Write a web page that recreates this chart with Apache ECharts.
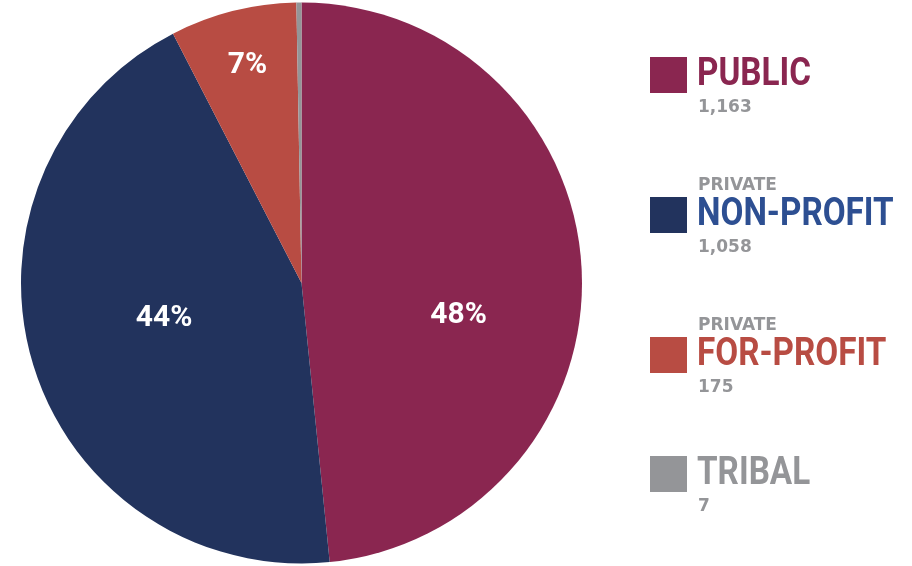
<!DOCTYPE html>
<html>
<head>
<meta charset="utf-8">
<script src="https://cdn.jsdelivr.net/npm/echarts@6/dist/echarts.min.js"></script>
<style>
html,body{margin:0;padding:0;background:#fff;}
#c{width:912px;height:566px;}
</style>
</head>
<body>
<div id="c"></div>
<script>
// ---- data ----
const categories = ['PUBLIC', 'NON-PROFIT', 'FOR-PROFIT', 'TRIBAL'];
const prefixes = ['', 'PRIVATE', 'PRIVATE', ''];
const counts = [1163, 1058, 175, 7];
const percentLabels = ['48%', '44%', '7%', ''];

// ---- styles / layout ----
const sliceColors = ['#8A2650', '#22335D', '#B84C43', '#949598'];
const nameColors = ['#8A2650', '#2D4F92', '#B84C43', '#949598'];
const labelOffsets = [[14, 40], [0, -5], [-19, -79], [0, 0]];
const legendTop = [57, 197, 337, 456];
const narrow = "Roboto, 'Liberation Sans', sans-serif";
const wideBold = "'DejaVu Sans', sans-serif";
const grey = '#949598';

const chart = echarts.init(document.getElementById('c'), null, {renderer: 'canvas'});

const pieData = categories.map((n, i) => ({
  name: n,
  value: counts[i],
  itemStyle: {color: sliceColors[i]},
  label: {show: !!percentLabels[i], formatter: percentLabels[i], offset: labelOffsets[i]}
}));

const graphics = [];
categories.forEach((n, i) => {
  const y = legendTop[i];
  graphics.push({type: 'rect', left: 650, top: y, shape: {width: 37, height: 36}, style: {fill: sliceColors[i]}});
  graphics.push({type: 'text', x: 697, y: y - 1, scaleX: 0.875, style: {text: n, fill: nameColors[i], font: 'bold 38px ' + narrow}});
  if (prefixes[i]) {
    graphics.push({type: 'text', left: 698, top: y - 20, style: {text: prefixes[i], fill: grey, font: 'bold 17px ' + wideBold}});
  }
  graphics.push({type: 'text', left: 698, top: y + 42, style: {text: counts[i].toLocaleString('en-US'), fill: grey, font: 'bold 17px ' + wideBold}});
});

chart.setOption({
  animation: false,
  backgroundColor: '#ffffff',
  series: [{
    type: 'pie',
    center: [301.5, 283],
    radius: [0, 280.5],
    startAngle: 90,
    clockwise: true,
    avoidLabelOverlap: false,
    label: {
      show: true,
      position: 'inside',
      color: '#ffffff',
      fontSize: 30,
      fontWeight: 'bold',
      fontFamily: narrow
    },
    labelLine: {show: false},
    emphasis: {disabled: true},
    itemStyle: {borderWidth: 0},
    data: pieData
  }],
  graphic: graphics
});
</script>
</body>
</html>
